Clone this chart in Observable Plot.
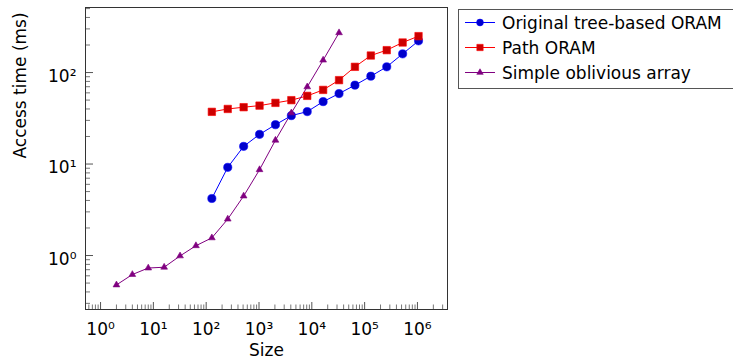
<!DOCTYPE html>
<html><head><meta charset="utf-8">
<script src="https://cdn.jsdelivr.net/npm/d3@7"></script>
<script src="https://cdn.jsdelivr.net/npm/@observablehq/plot@0.6"></script>
<style>
html,body{margin:0;padding:0;background:#fff;overflow:hidden;}
#wrap{position:relative;width:733px;height:361px;overflow:hidden;}
#legend{position:absolute;left:458px;top:9px;width:300px;height:80px;border:1px solid #555;box-sizing:border-box;font-family:"DejaVu Sans";font-size:17px;background:#fff;color:#000}
.row{position:absolute;left:0;height:25px;display:flex;align-items:center;white-space:nowrap}
.row svg{display:block}
</style></head><body><div id="wrap"><div id="chart"></div><div id="legend"></div></div>
<script>
// ---- data ----
const sizesTree = [128, 256, 512, 1024, 2048, 4096, 8192, 16384, 32768, 65536, 131072, 262144, 524288, 1048576];
const treeORAM = [4.2, 9.2, 15.6, 21.1, 26.9, 33.8, 37.4, 48.1, 58.9, 72.8, 91.2, 115.5, 160, 222];
const pathORAM = [37.2, 40, 41.8, 43.5, 46.6, 49.9, 55.6, 64.6, 82.6, 115.5, 153.5, 175.7, 213, 250];
const sizesSimple = [2, 4, 8, 16, 32, 64, 128, 256, 512, 1024, 2048, 4096, 8192, 16384, 32768];
const simpleArray = [0.477, 0.62, 0.73, 0.745, 0.99, 1.28, 1.56, 2.5, 4.47, 8.67, 18.2, 36.2, 69.7, 136.7, 272];
const seriesNames = ["Original tree-based ORAM", "Path ORAM", "Simple oblivious array"];
const seriesColors = ["#0000ff", "#ff0000", "#800080"];
const markFills = ["#0000cc", "#cc0000", "#800080"];
const xMajorTicks = [1, 10, 100, 1000, 10000, 100000, 1000000];
const yMajorTicks = [1, 10, 100];
const supDigits = ["⁰", "¹", "²", "³", "⁴", "⁵", "⁶"];
const xLabel = "Size";
const yLabel = "Access time (ms)";

// ---- derived ----
const xDomain = [10 ** -0.285, 10 ** 6.569];
const yDomain = [10 ** -0.59, 10 ** 2.711];
function minors(domain) {
  const out = [];
  for (let e = -2; e <= 7; e++) for (let m = 2; m <= 9; m++) {
    const v = m * 10 ** e;
    if (v >= domain[0] && v <= domain[1]) out.push(v);
  }
  return out;
}
const xMinor = minors(xDomain);
const yMinor = minors(yDomain);
const fmt = d => "10" + supDigits[Math.round(Math.log10(d))];
const tree = sizesTree.map((x, i) => ({x, y: treeORAM[i]}));
const path = sizesTree.map((x, i) => ({x, y: pathORAM[i]}));
const simple = sizesSimple.map((x, i) => ({x, y: simpleArray[i]}));
const blank = () => "";

const chart = Plot.plot({
  width: 733, height: 361,
  marginLeft: 85, marginRight: 286, marginTop: 7, marginBottom: 52,
  style: {fontFamily: "DejaVu Sans", fontSize: "17px", background: "#fff", color: "#000"},
  x: {type: "log", domain: xDomain, label: null},
  y: {type: "log", domain: yDomain, label: null},
  marks: [
    Plot.axisX(xMinor, {tickSize: 4.5, dy: -4.5, tickFormat: blank, stroke: "#777", label: null}),
    Plot.axisX(xMajorTicks, {tickSize: 7, dy: -7, tickFormat: blank, stroke: "#555", label: null}),
    Plot.axisX(xMajorTicks, {tickSize: 0, tickPadding: 13, tickFormat: fmt, fontSize: 17, label: null}),
    Plot.axisY(yMinor, {tickSize: 5, dx: 5, tickFormat: blank, stroke: "#777", label: null}),
    Plot.axisY(yMajorTicks, {tickSize: 8, dx: 8, tickFormat: blank, stroke: "#555", label: null}),
    Plot.axisY(yMajorTicks, {tickSize: 0, tickPadding: 9, dy: 4, tickFormat: fmt, fontSize: 17, label: null}),
    Plot.frame({stroke: "#333"}),
    Plot.line(tree, {x: "x", y: "y", stroke: seriesColors[0], strokeWidth: 1}),
    Plot.line(path, {x: "x", y: "y", stroke: seriesColors[1], strokeWidth: 1}),
    Plot.line(simple, {x: "x", y: "y", stroke: seriesColors[2], strokeWidth: 1}),
    Plot.dot(tree, {x: "x", y: "y", r: 4.1, symbol: "circle", fill: markFills[0], stroke: seriesColors[0], strokeWidth: 0.6}),
    Plot.dot(path, {x: "x", y: "y", r: 4.2, symbol: "square", fill: markFills[1], stroke: seriesColors[1], strokeWidth: 0.6}),
    Plot.dot(simple, {x: "x", y: "y", r: 2.5, symbol: "triangle", fill: markFills[2], stroke: seriesColors[2], strokeWidth: 0.6}),
    Plot.text([xLabel], {frameAnchor: "bottom", dy: 46, text: d => d, fontSize: 17}),
    Plot.text([yLabel], {frameAnchor: "left", dx: -65, rotate: -90, text: d => d, fontSize: 17})
  ]
});
document.getElementById("chart").appendChild(chart);

// ---- legend ----
const legend = d3.select("#legend");
const ns = "http://www.w3.org/2000/svg";
seriesNames.forEach((name, i) => {
  const row = legend.append("div").attr("class", "row").style("top", (i * 25) + "px");
  const svg = row.append(() => document.createElementNS(ns, "svg")).attr("width", 43).attr("height", 25);
  svg.append("line").attr("x1", 6).attr("x2", 36).attr("y1", 12.5).attr("y2", 12.5)
    .attr("stroke", seriesColors[i]).attr("stroke-width", 1);
  const sym = [d3.symbolCircle, d3.symbolSquare, d3.symbolTriangle][i];
  const size = [Math.PI * 3.4 * 3.4, 40, Math.PI * 2.4 * 2.4][i];
  svg.append("path").attr("d", d3.symbol(sym, size)()).attr("transform", "translate(21,12.5)")
    .attr("fill", markFills[i]).attr("stroke", seriesColors[i]).attr("stroke-width", 0.6);
  row.append("span").text(name);
});
</script>
</body></html>
